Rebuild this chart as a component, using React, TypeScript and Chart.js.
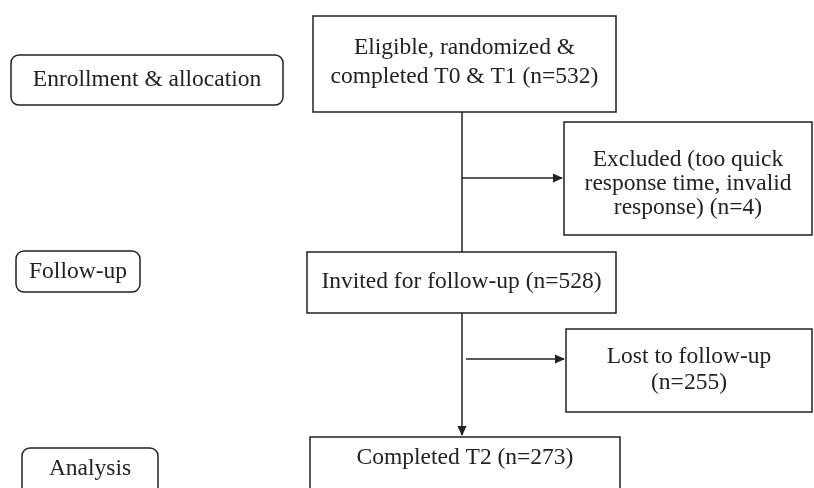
import React, { useEffect, useRef } from "react";
import { Chart, registerables } from "chart.js";

Chart.register(...registerables);

// ---- data ----
const stageLabels = ["Enrollment & allocation", "Follow-up", "Analysis"];
const flowCounts = [532, 4, 528, 255, 273];
const flowTexts = [
  ["Eligible, randomized &", "completed T0 & T1 (n={n})"],
  ["Excluded (too quick", "response time, invalid", "response) (n={n})"],
  ["Invited for follow-up (n={n})"],
  ["Lost to follow-up", "(n={n})"],
  ["Completed T2 (n={n})"],
];

// ---- layout (scale units; x 0..814, y 0..488 top-down) ----
const stageRects = [
  [11, 283, 55, 105, 80],
  [16, 140, 251, 292, 272],
  [22, 158, 448, 510, 469],
];
const flowRects = [
  [313, 616, 16, 112, 62, 29],
  [564, 812, 122, 235, 184, 24],
  [307, 616, 252, 313, 282, 26],
  [566, 812, 329, 412, 370, 26],
  [310, 620, 437, 510, 458, 26],
];
const spineX = 462;
const branchY = [178, 359];

const FONT = '23.5px "Liberation Serif", "Times New Roman", serif';
const INK = "#222";

const flowPlugin = {
  id: "flowPlugin",
  afterDatasetsDraw(chart: any) {
    const ctx = chart.ctx as CanvasRenderingContext2D;
    const xs = chart.scales.x;
    const ys = chart.scales.y;
    const X = (v: number) => xs.getPixelForValue(v);
    const Y = (v: number) => ys.getPixelForValue(v);
    ctx.save();
    ctx.strokeStyle = INK;
    ctx.fillStyle = INK;
    ctx.lineWidth = 1.5;
    ctx.font = FONT;
    ctx.textAlign = "center";
    ctx.textBaseline = "middle";

    const arrowHead = (x: number, y: number, dir: "right" | "down") => {
      ctx.beginPath();
      if (dir === "right") {
        ctx.moveTo(x, y);
        ctx.lineTo(x - 10, y - 4.5);
        ctx.lineTo(x - 10, y + 4.5);
      } else {
        ctx.moveTo(x, y);
        ctx.lineTo(x - 4.5, y - 10);
        ctx.lineTo(x + 4.5, y - 10);
      }
      ctx.closePath();
      ctx.fill();
    };

    stageLabels.forEach((label, i) => {
      const [x0, x1, y0, y1, ty] = stageRects[i];
      ctx.beginPath();
      (ctx as any).roundRect(X(x0), Y(y0), X(x1) - X(x0), Y(y1) - Y(y0), 8);
      ctx.stroke();
      ctx.fillText(label, (X(x0) + X(x1)) / 2, Y(ty));
    });

    flowTexts.forEach((lines, i) => {
      const [x0, x1, y0, y1, ty, lh] = flowRects[i];
      ctx.beginPath();
      ctx.rect(X(x0), Y(y0), X(x1) - X(x0), Y(y1) - Y(y0));
      ctx.stroke();
      const cx = (X(x0) + X(x1)) / 2;
      const n = lines.length;
      lines.forEach((t, k) => {
        const txt = t.replace("{n}", String(flowCounts[i]));
        ctx.fillText(txt, cx, Y(ty) + (k - (n - 1) / 2) * lh);
      });
    });

    ctx.beginPath();
    ctx.moveTo(X(spineX), Y(flowRects[0][3]));
    ctx.lineTo(X(spineX), Y(flowRects[2][2]));
    ctx.moveTo(X(spineX), Y(flowRects[2][3]));
    ctx.lineTo(X(spineX), Y(flowRects[4][2]) - 2);
    ctx.stroke();
    arrowHead(X(spineX), Y(flowRects[4][2]) - 1, "down");

    const targets = [1, 3];
    branchY.forEach((by, k) => {
      const tx = flowRects[targets[k]][0];
      const sx = k === 0 ? spineX : spineX + 4;
      ctx.beginPath();
      ctx.moveTo(X(sx), Y(by));
      ctx.lineTo(X(tx) - 2, Y(by));
      ctx.stroke();
      arrowHead(X(tx) - 1, Y(by), "right");
    });

    ctx.restore();
  },
};

export default function App() {
  const ref = useRef<HTMLCanvasElement | null>(null);
  useEffect(() => {
    if (!ref.current) return;
    const chart = new Chart(ref.current, {
      type: "scatter",
      data: {
        datasets: [
          {
            data: flowRects.map((r) => ({ x: (r[0] + r[1]) / 2, y: r[4] })),
            pointRadius: 0,
          },
        ],
      },
      options: {
        animation: false,
        responsive: true,
        maintainAspectRatio: false,
        layout: { padding: 0 },
        plugins: { legend: { display: false }, tooltip: { enabled: false } },
        scales: {
          x: { type: "linear", min: 0, max: 814, display: false },
          y: { type: "linear", min: 0, max: 488, reverse: true, display: false },
        },
      },
      plugins: [flowPlugin],
    });
    return () => chart.destroy();
  }, []);
  return (
    <div style={{ position: "fixed", left: 0, top: 0, width: 814, height: 488, background: "#fff" }}>
      <canvas ref={ref} />
    </div>
  );
}
